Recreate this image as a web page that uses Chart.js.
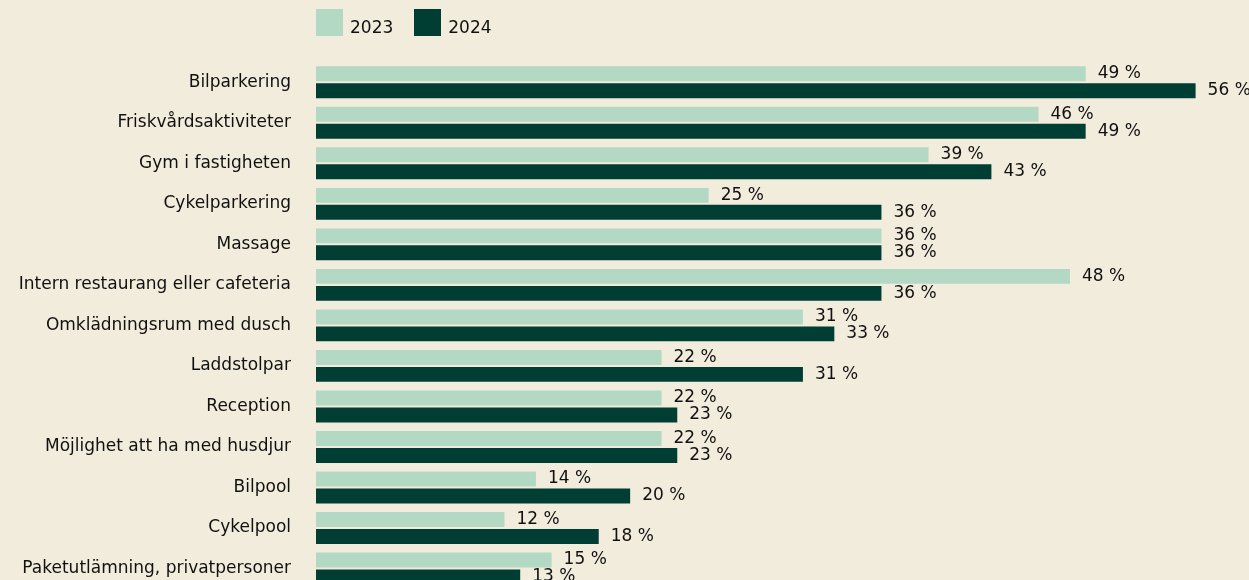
<!DOCTYPE html>
<html>
<head>
<meta charset="utf-8">
<script src="https://cdn.jsdelivr.net/npm/chart.js@4"></script>
<style>
    html, body { margin: 0; padding: 0; background: #f2ecdc; overflow: hidden; }
    #wrap { position: relative; width: 1249px; height: 616px; }
    #legend { position: absolute; left: 316px; top: 9px; display: flex; font: 17px "DejaVu Sans", sans-serif; color: #111; }
    #legend .item { display: flex; align-items: flex-end; margin-right: 21px; }
    #legend .box { width: 27px; height: 27px; margin-right: 7px; }
    #legend .txt { line-height: 20px; position: relative; top: 1px; }
</style>
</head>
<body>
<div id="wrap">
    <canvas id="chart" width="1249" height="616"></canvas>
    <div id="legend"></div>
</div>
<script>
const categories = [
    'Bilparkering',
    'Friskvårdsaktiviteter',
    'Gym i fastigheten',
    'Cykelparkering',
    'Massage',
    'Intern restaurang eller cafeteria',
    'Omklädningsrum med dusch',
    'Laddstolpar',
    'Reception',
    'Möjlighet att ha med husdjur',
    'Bilpool',
    'Cykelpool',
    'Paketutlämning, privatpersoner'
];
const seriesNames = ['2023', '2024'];
const values2023 = [49, 46, 39, 25, 36, 48, 31, 22, 22, 22, 14, 12, 15];
const values2024 = [56, 49, 43, 36, 36, 36, 33, 31, 23, 23, 20, 18, 13];
const colors = ['#b3d9c4', '#003d33'];
const fontFamily = '"DejaVu Sans", sans-serif';

// HTML legend at the left of the plot area
const legendEl = document.getElementById('legend');
seriesNames.forEach(function(name, i) {
    const item = document.createElement('div');
    item.className = 'item';
    item.innerHTML = '<div class="box" style="background:' + colors[i] + '"></div><span class="txt">' + name + '</span>';
    legendEl.appendChild(item);
});

// Value labels after each bar
const valueLabels = {
    id: 'valueLabels',
    afterDatasetsDraw(chart) {
        const ctx = chart.ctx;
        ctx.save();
        ctx.font = '17px ' + fontFamily;
        ctx.fillStyle = '#111';
        ctx.textAlign = 'left';
        ctx.textBaseline = 'middle';
        chart.data.datasets.forEach(function(ds, di) {
            chart.getDatasetMeta(di).data.forEach(function(bar, i) {
                ctx.fillText(ds.data[i] + ' %', bar.x + 12, bar.y);
            });
        });
        ctx.restore();
    }
};

new Chart(document.getElementById('chart').getContext('2d'), {
    type: 'bar',
    data: {
        labels: categories,
        datasets: [{
            label: seriesNames[0],
            data: values2023,
            backgroundColor: colors[0],
            categoryPercentage: 0.837,
            barPercentage: 0.88
        }, {
            label: seriesNames[1],
            data: values2024,
            backgroundColor: colors[1],
            categoryPercentage: 0.837,
            barPercentage: 0.88
        }]
    },
    options: {
        indexAxis: 'y',
        responsive: false,
        animation: false,
        layout: {
            padding: { top: 62, bottom: 10, left: 0, right: 0 }
        },
        plugins: {
            legend: { display: false },
            tooltip: { enabled: false }
        },
        scales: {
            x: {
                min: 0,
                max: 59.4,
                display: false
            },
            y: {
                grid: { display: false },
                border: { display: false },
                ticks: {
                    color: '#111',
                    padding: 17,
                    font: { family: fontFamily, size: 17 }
                },
                afterFit(scale) { scale.width = 316; }
            }
        }
    },
    plugins: [valueLabels]
});
</script>
</body>
</html>
